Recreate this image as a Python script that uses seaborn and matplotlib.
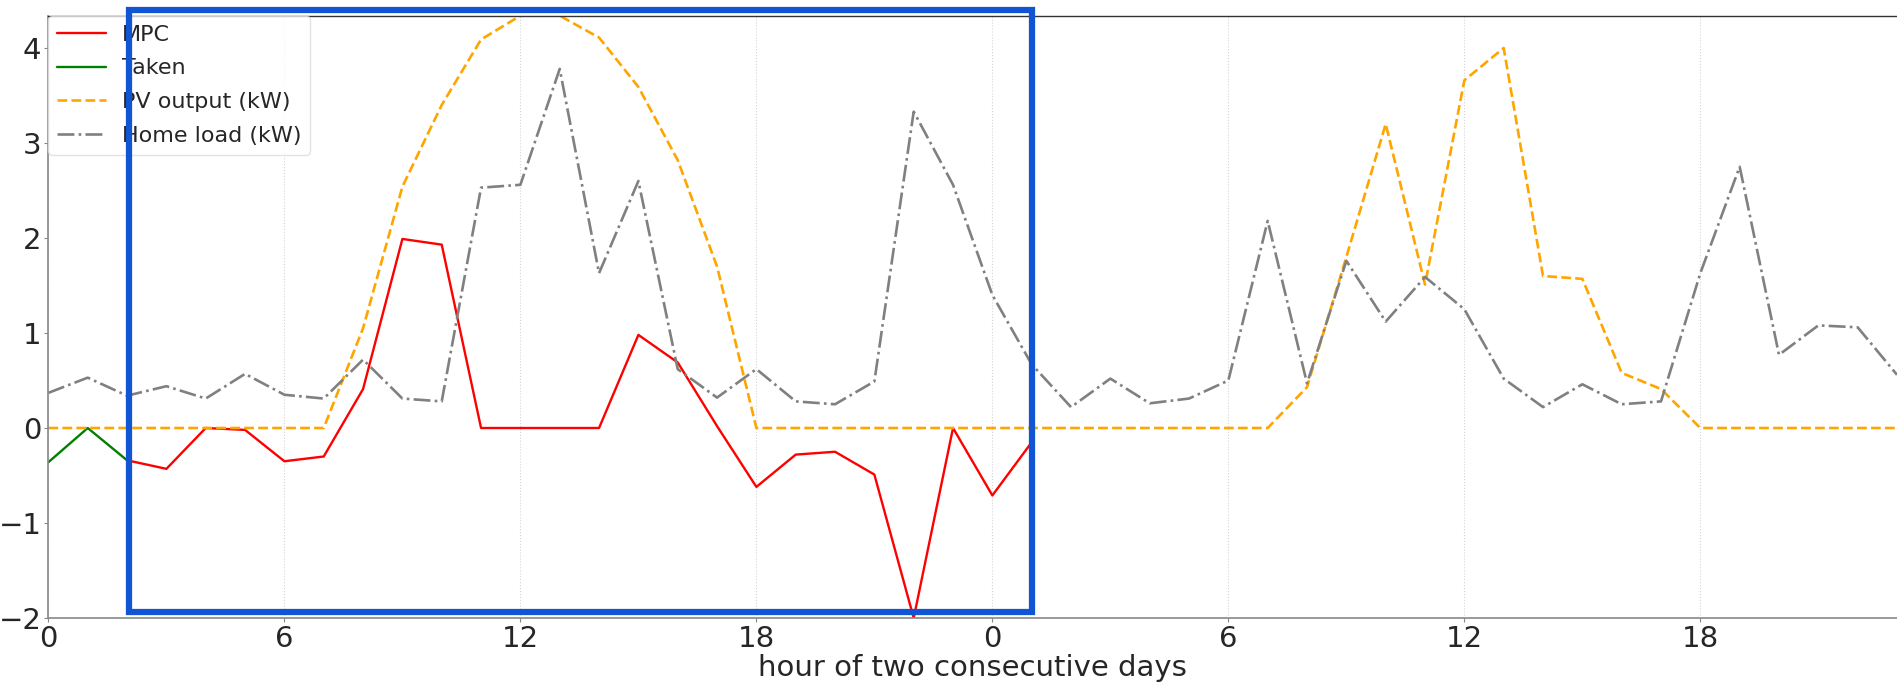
import numpy as np
import pandas as pd
import matplotlib
matplotlib.use("Agg")
import matplotlib.pyplot as plt
from matplotlib.patches import Rectangle
import seaborn as sns

# ---- data ----
hours = list(range(48))

taken_hours = [0, 1, 2]
taken_vals = [-0.36, 0.0, -0.34]

mpc_hours = list(range(2, 26))
mpc_vals = [-0.34, -0.43, 0.00, -0.02, -0.35, -0.30, 0.41, 1.99, 1.93, 0.00,
            0.00, 0.00, 0.00, 0.98, 0.69, 0.02, -0.62, -0.28, -0.25, -0.49,
            -2.00, 0.00, -0.71, -0.15]

pv_vals = [0, 0, 0, 0, 0, 0, 0, 0, 1.05, 2.54, 3.40, 4.09, 4.34, 4.34, 4.11, 3.59,
           2.82, 1.70, 0, 0, 0, 0, 0, 0, 0, 0, 0, 0, 0, 0, 0, 0,
           0.43, 1.80, 3.20, 1.51, 3.66, 4.00, 1.60, 1.57, 0.58, 0.41, 0, 0, 0, 0, 0, 0]

load_vals = [0.37, 0.53, 0.34, 0.44, 0.31, 0.57, 0.35, 0.31, 0.72, 0.31, 0.28, 2.53,
             2.56, 3.78, 1.63, 2.60, 0.62, 0.32, 0.62, 0.28, 0.25, 0.49, 3.33, 2.56,
             1.40, 0.67, 0.22, 0.52, 0.26, 0.31, 0.50, 2.18, 0.47, 1.76, 1.12, 1.59,
             1.25, 0.52, 0.22, 0.46, 0.25, 0.28, 1.63, 2.75, 0.77, 1.08, 1.06, 0.56]

tick_pos = [0, 6, 12, 18, 24, 30, 36, 42]
tick_labels = ["0", "6", "12", "18", "0", "6", "12", "18"]

highlight_x = (2.05, 25.0)
highlight_y = (-1.94, 4.40)

# ---- plot ----
sns.set_style("ticks")
plt.rcParams["font.family"] = ["DejaVu Sans"]

fig = plt.figure(figsize=(18.97, 6.89), dpi=100)
ax = fig.add_axes([48.4 / 1897, 1 - 618 / 689, 1 - 48.4 / 1897, (618 - 15.7) / 689])

df_mpc = pd.DataFrame({"h": mpc_hours, "v": mpc_vals})
df_taken = pd.DataFrame({"h": taken_hours, "v": taken_vals})
df_pv = pd.DataFrame({"h": hours, "v": pv_vals})
df_load = pd.DataFrame({"h": hours, "v": load_vals})

sns.lineplot(data=df_mpc, x="h", y="v", ax=ax, color="red", linewidth=1.7, label="MPC")
sns.lineplot(data=df_taken, x="h", y="v", ax=ax, color="green", linewidth=1.7, label="Taken")
sns.lineplot(data=df_pv, x="h", y="v", ax=ax, color="orange", linewidth=1.9,
             linestyle="--", label="PV output (kW)")
sns.lineplot(data=df_load, x="h", y="v", ax=ax, color="gray", linewidth=1.9,
             linestyle="-.", label="Home load (kW)")

ax.autoscale(enable=True, tight=True)
ax.set_xticks(tick_pos)
ax.set_xticklabels(tick_labels)
ax.set_yticks([-2, -1, 0, 1, 2, 3, 4])
ax.tick_params(axis="both", labelsize=21, length=3, color="#888888", pad=2)
ax.set_xlabel("hour of two consecutive days", fontsize=21, labelpad=1)
ax.set_ylabel("")

ax.grid(axis="x", linestyle=":", color="#d5d5d5", linewidth=0.8)
ax.grid(axis="y", visible=False)

for s in ["left", "bottom"]:
    ax.spines[s].set_color("#888888")
    ax.spines[s].set_linewidth(1.2)
ax.spines["top"].set_visible(True)
ax.spines["top"].set_color("#333333")
ax.spines["top"].set_linewidth(1.0)
ax.spines["right"].set_visible(False)

leg = ax.legend(loc="upper left", fontsize=16, borderaxespad=0, framealpha=0.8,
                edgecolor="#dddddd", handlelength=2.2, labelspacing=0.62,
                handletextpad=0.7)

rect = Rectangle((highlight_x[0], highlight_y[0]), highlight_x[1] - highlight_x[0],
                 highlight_y[1] - highlight_y[0], fill=False, edgecolor="#1155d4",
                 linewidth=4.5, clip_on=False, zorder=10)
ax.add_patch(rect)

fig.savefig("out.png", dpi=100)
